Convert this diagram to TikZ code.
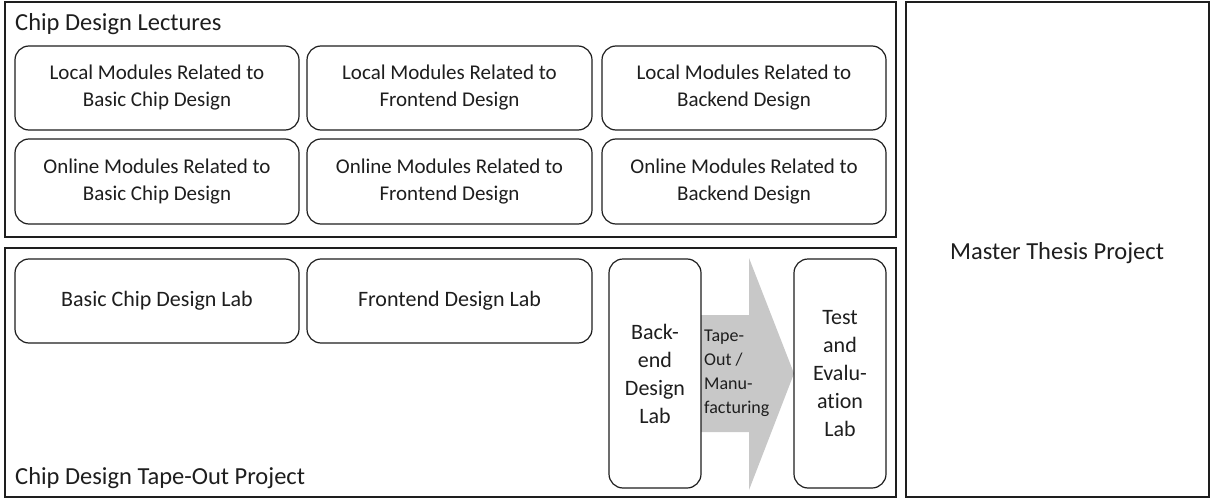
\documentclass[tikz,border=0pt]{standalone}
\usepackage{fontspec}
\setmainfont{Carlito}[Ligatures={NoCommon}]
\definecolor{ink}{RGB}{30,30,30}
\definecolor{arrowgray}{RGB}{200,200,200}
\begin{document}
\begin{tikzpicture}[x=1pt,y=-1pt,
  outerbox/.style={draw=ink,line width=1.6pt},
  modbox/.style={draw=ink,line width=1.2pt,rounded corners=14pt,align=center,
     font=\fontsize{21}{27}\selectfont,text=ink,inner sep=0pt},
  labbox/.style={modbox,font=\fontsize{22}{28}\selectfont},
  lbl/.style={font=\fontsize{24.5}{30}\selectfont,text=ink,inner sep=0pt}]
\useasboundingbox (0,0) rectangle (1212,500);
\fill[white] (0,0) rectangle (1212,500);
% outer boxes
\draw[outerbox] (5,2) rectangle (896,237);
\draw[outerbox] (5,248) rectangle (896,497);
\draw[outerbox] (906,2) rectangle (1209,497);
\node[lbl,anchor=west] (lect) at (15,24) {Chip Design Lectures};
\node[lbl,anchor=west] (tape) at (15,478) {Chip Design Tape-Out Project};
\node[lbl] (thesis) at (1057,253) {Master Thesis Project};
% arrow (drawn first, behind the lab boxes)
\coordinate (shaftL) at (701,373.5);
\coordinate (tip) at (794,373.5);
\fill[arrowgray] (shaftL |- 0,315) -- (749,315) -- (749,258) -- (tip) -- (749,490) -- (749,432) -- (shaftL |- 0,432) -- cycle;
% module boxes
\node[modbox,minimum width=284pt,minimum height=84pt] (lb) at (157,88) {Local Modules Related to\\Basic Chip Design};
\node[modbox,minimum width=285pt,minimum height=84pt] (lf) at (449.5,88) {Local Modules Related to\\Frontend Design};
\node[modbox,minimum width=284pt,minimum height=84pt] (lk) at (744,88) {Local Modules Related to\\Backend Design};
\node[modbox,minimum width=284pt,minimum height=85pt] (ob) at (157,181.5) {Online Modules Related to\\Basic Chip Design};
\node[modbox,minimum width=285pt,minimum height=85pt] (of) at (449.5,181.5) {Online Modules Related to\\Frontend Design};
\node[modbox,minimum width=284pt,minimum height=85pt] (ok) at (744,181.5) {Online Modules Related to\\Backend Design};
% labs
\node[labbox,minimum width=284pt,minimum height=84pt] (basiclab) at (157,301) {Basic Chip Design Lab};
\node[labbox,minimum width=285pt,minimum height=84pt] (frontlab) at (449.5,301) {Frontend Design Lab};
\node[labbox,minimum width=92pt,minimum height=229pt] (backlab) at (655,373.5) {Back-\\end\\Design\\Lab};
\node[labbox,minimum width=92pt,minimum height=229pt] (testlab) at (840,373.5) {Test\\and\\Evalu-\\ation\\Lab};
\node[font=\fontsize{18}{24}\selectfont,text=ink,align=left,anchor=west,inner sep=0pt] (tapeout) at (704,373) {Tape-\\Out /\\Manu-\\facturing};
\end{tikzpicture}
\end{document}
